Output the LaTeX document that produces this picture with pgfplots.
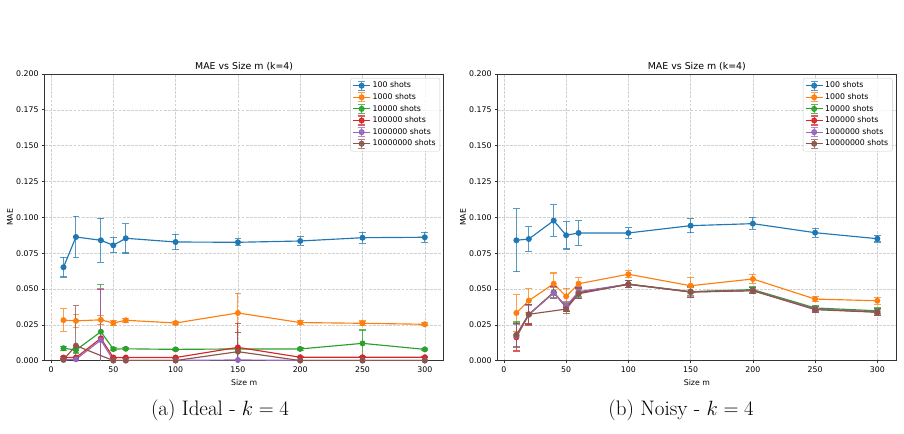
\documentclass[border=0pt]{standalone}
\usepackage{pgfplots}
\pgfplotsset{compat=1.18}
\usepackage{pgfplotstable}
\usepackage{fontspec}
\newfontfamily\dejavu{DejaVu Sans}
\newcommand\smallfont{\dejavu\fontsize{7.8bp}{9.4bp}\selectfont}
\newcommand\titlefont{\dejavu\fontsize{9.4bp}{11bp}\selectfont}

\definecolor{c0}{HTML}{1F77B4}
\definecolor{c1}{HTML}{FF7F0E}
\definecolor{c2}{HTML}{2CA02C}
\definecolor{c3}{HTML}{D62728}
\definecolor{c4}{HTML}{9467BD}
\definecolor{c5}{HTML}{8C564B}

% Ideal simulation: mean MAE and its spread per shot count
\pgfplotstableread{
x    a      ae     b      be     c      ce     d      de     e      ee
10   0.0652 0.0068 0.0283 0.0078 0.0087 0.0015 0.0022 0.0010 0.0005 0.0003
20   0.0863 0.0143 0.0278 0.0047 0.0074 0.0020 0.0022 0.0008 0.0010 0.0004
40   0.0840 0.0152 0.0285 0.0030 0.0202 0.0331 0.0156 0.0340 0.0144 0.0361
50   0.0805 0.0052 0.0263 0.0015 0.0081 0.0010 0.0022 0.0003 0.0002 0.0001
60   0.0854 0.0103 0.0282 0.0013 0.0083 0.0008 0.0022 0.0003 0.0002 0.0001
100  0.0828 0.0053 0.0263 0.0012 0.0079 0.0006 0.0022 0.0003 0.0002 0.0001
150  0.0826 0.0025 0.0333 0.0137 0.0082 0.0010 0.0093 0.0167 0.0005 0.0003
200  0.0835 0.0030 0.0266 0.0012 0.0082 0.0008 0.0024 0.0003 0.0002 0.0001
250  0.0858 0.0038 0.0261 0.0016 0.0121 0.0093 0.0024 0.0003 0.0002 0.0001
300  0.0861 0.0034 0.0254 0.0010 0.0079 0.0007 0.0024 0.0003 0.0002 0.0001
}\idealtab

\pgfplotstableread{
x    f      fe
10   0.0008 0.0005
20   0.0105 0.0277
50   0.0001 0.0001
60   0.0001 0.0001
100  0.0001 0.0001
150  0.0063 0.0132
200  0.0001 0.0001
250  0.0001 0.0001
300  0.0001 0.0001
}\idealbrown

% Noisy simulation
\pgfplotstableread{
x    a      ae     b      be     c      ce     d      de     e      ee
10   0.0840 0.0220 0.0333 0.0127 0.0180 0.0090 0.0163 0.0095 0.0172 0.0080
20   0.0849 0.0085 0.0419 0.0083 0.0322 0.0070 0.0322 0.0073 0.0322 0.0065
40   0.0977 0.0110 0.0537 0.0075 0.0478 0.0040 0.0475 0.0040 0.0472 0.0040
50   0.0875 0.0096 0.0449 0.0055 0.0375 0.0030 0.0372 0.0030 0.0380 0.0030
60   0.0891 0.0085 0.0537 0.0043 0.0475 0.0035 0.0472 0.0035 0.0482 0.0035
100  0.0891 0.0037 0.0603 0.0025 0.0535 0.0025 0.0533 0.0025 0.0533 0.0025
150  0.0942 0.0048 0.0523 0.0056 0.0482 0.0030 0.0480 0.0040 0.0480 0.0035
200  0.0956 0.0040 0.0570 0.0033 0.0496 0.0020 0.0490 0.0020 0.0490 0.0020
250  0.0893 0.0032 0.0430 0.0019 0.0368 0.0020 0.0360 0.0020 0.0360 0.0020
300  0.0851 0.0023 0.0418 0.0025 0.0348 0.0020 0.0340 0.0025 0.0340 0.0020
}\noisytab

\pgfplotstableread{
x    f      fe
10   0.0179 0.0080
20   0.0324 0.0065
50   0.0360 0.0030
60   0.0467 0.0035
100  0.0533 0.0025
150  0.0479 0.0040
200  0.0488 0.0020
250  0.0356 0.0020
300  0.0338 0.0025
}\noisybrown

\pgfplotsset{
  maepanel/.style={
    scale only axis, height=286.7bp,
    xmin=-5, xmax=315, ymin=0, ymax=0.2,
    xtick={0,50,100,150,200,250,300},
    ytick={0,0.025,0.05,0.075,0.1,0.125,0.15,0.175,0.2},
    scaled y ticks=false,
    /pgf/number format/assume math mode=true,
    y tick label style={/pgf/number format/fixed, /pgf/number format/fixed zerofill, /pgf/number format/precision=3},
    tick label style={font=\smallfont},
    tick pos=left, tick align=outside, major tick length=2.7bp,
    tick style={black!80, line width=0.7bp},
    axis line style={black!80, line width=0.8bp},
    grid=major, grid style={dashed, dash pattern=on 2.8bp off 1.3bp, black!18, line width=0.6bp},
    title={MAE vs Size m (k=4)},
    title style={font=\titlefont, at={(0.5,1)}, anchor=south, inner sep=2bp, yshift=-5bp},
    xlabel={Size m}, ylabel={MAE},
    label style={font=\smallfont},
    xlabel style={at={(axis description cs:0.5,0)}, anchor=center, yshift=-22.3bp},
    ylabel style={at={(axis description cs:-0.087,0.5)}, anchor=center},
    legend cell align=left,
    legend style={at={(axis description cs:1,1)}, anchor=north east, xshift=-3.5bp, yshift=-4bp,
      draw=black!20, fill=white, fill opacity=0.8, text opacity=1, rounded corners=2bp,
      font=\smallfont, inner xsep=2bp, inner ysep=1.8bp, row sep=0.2bp},
  },
  ser/.style={color=#1, mark=*, mark size=2.4bp, line width=1.15bp,
    mark options={solid, fill=#1, draw=#1},
    error bars/y dir=both, error bars/y explicit,
    error bars/error bar style={line width=1.1bp, opacity=0.75},
    error bars/error mark options={rotate=90, mark size=3.4bp, line width=1.1bp, opacity=0.75},
    legend image code/.code={
      \draw (0bp,0bp) -- (17bp,0bp);
      \draw[opacity=0.75] (8.5bp,-4.5bp) -- (8.5bp,4.5bp)
        (5.1bp,4.5bp) -- (11.9bp,4.5bp) (5.1bp,-4.5bp) -- (11.9bp,-4.5bp);
      \draw plot coordinates {(8.5bp,0bp)};
    },
  },
}

\begin{document}
\begin{tikzpicture}
\useasboundingbox (0,0) rectangle (904bp,434bp);

\begin{axis}[maepanel, width=398.7bp, at={(44.8bp,73.3bp)}, anchor=south west]
  \addplot[ser=c0] table[x=x, y=a, y error=ae] {\idealtab};
  \addplot[ser=c1] table[x=x, y=b, y error=be] {\idealtab};
  \addplot[ser=c2] table[x=x, y=c, y error=ce] {\idealtab};
  \addplot[ser=c3] table[x=x, y=d, y error=de] {\idealtab};
  \addplot[ser=c4] table[x=x, y=e, y error=ee] {\idealtab};
  \addplot[ser=c5] table[x=x, y=f, y error=fe] {\idealbrown};
  \legend{100 shots, 1000 shots, 10000 shots, 100000 shots, 1000000 shots, 10000000 shots}
\end{axis}

\begin{axis}[maepanel, width=398.3bp, at={(497.7bp,73.3bp)}, anchor=south west]
  \addplot[ser=c0] table[x=x, y=a, y error=ae] {\noisytab};
  \addplot[ser=c1] table[x=x, y=b, y error=be] {\noisytab};
  \addplot[ser=c2] table[x=x, y=c, y error=ce] {\noisytab};
  \addplot[ser=c3] table[x=x, y=d, y error=de] {\noisytab};
  \addplot[ser=c4] table[x=x, y=e, y error=ee] {\noisytab};
  \addplot[ser=c5] table[x=x, y=f, y error=fe] {\noisybrown};
  \legend{100 shots, 1000 shots, 10000 shots, 100000 shots, 1000000 shots, 10000000 shots}
\end{axis}

\node[font=\fontsize{21bp}{25bp}\selectfont] at (220bp,23.5bp) {(a) Ideal - $k=4$};
\node[font=\fontsize{21bp}{25bp}\selectfont] at (681bp,23.5bp) {(b) Noisy - $k=4$};
\end{tikzpicture}
\end{document}
